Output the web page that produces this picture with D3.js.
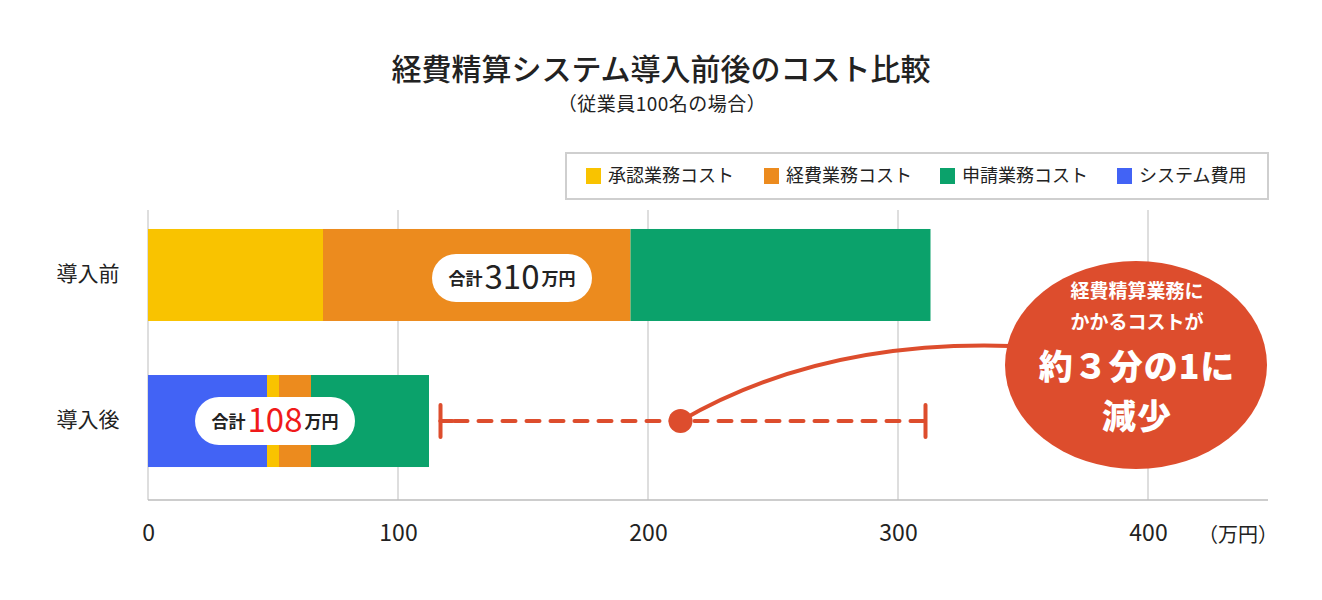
<!DOCTYPE html>
<html>
<head>
<meta charset="utf-8">
<script src="https://cdn.jsdelivr.net/npm/d3@7"></script>
<style>
  body { margin: 0; background: #fff; }
  text { font-family: "Noto Sans CJK JP", "Noto Sans", sans-serif; }
</style>
</head>
<body>
<div id="chart"></div>
<script>
// data (unit: 万円)
var categories = ["導入前", "導入後"];
var seriesNames = ["システム費用", "承認業務コスト", "経費業務コスト", "申請業務コスト"];
var seriesColors = ["#4263f5", "#f9c300", "#ec8b1e", "#0ba26b"];
var beforeValues = [0, 70, 123, 120];
var afterValues = [47.6, 4.8, 12.8, 47.2];
var totalLabels = ["310", "108"];
var legendOrder = ["承認業務コスト", "経費業務コスト", "申請業務コスト", "システム費用"];
var xTicks = [0, 100, 200, 300, 400];
var bracket = [117, 311];
var dotValue = 213;
var red = "#dd4d2d";

var width = 1322, height = 600;
var svg = d3.select("#chart").append("svg")
  .attr("width", width)
  .attr("height", height);

var x = d3.scaleLinear().domain([0, 448]).range([148, 1268]);
var y = d3.scaleBand().domain(categories).range([210, 486])
  .paddingInner(0.37).paddingOuter(0.13);

// title
svg.append("text")
  .attr("x", 661).attr("y", 72)
  .attr("text-anchor", "middle").attr("dominant-baseline", "middle")
  .attr("font-size", "30px").attr("font-weight", 500).attr("fill", "#222")
  .text("経費精算システム導入前後のコスト比較");
svg.append("text")
  .attr("x", 662).attr("y", 106)
  .attr("text-anchor", "middle").attr("dominant-baseline", "middle")
  .attr("font-size", "19px").attr("fill", "#222")
  .attr("letter-spacing", "0.5px")
  .text("（従業員100名の場合）");

// legend
var legend = svg.append("g");
legend.append("rect")
  .attr("x", 566).attr("y", 153).attr("width", 702).attr("height", 46)
  .attr("fill", "#fff").attr("stroke", "#cfcfcf").attr("stroke-width", 2);
var legendX = [586, 764, 940, 1117];
legendOrder.forEach(function(name, i) {
  var c = seriesColors[seriesNames.indexOf(name)];
  legend.append("rect")
    .attr("x", legendX[i]).attr("y", 168).attr("width", 15).attr("height", 16)
    .attr("fill", c);
  legend.append("text")
    .attr("x", legendX[i] + 22).attr("y", 177)
    .attr("dominant-baseline", "middle")
    .attr("font-size", "18px").attr("fill", "#222")
    .text(name);
});

// grid
svg.selectAll(".grid").data(xTicks)
  .enter().append("line")
  .attr("x1", function(d){ return x(d); }).attr("x2", function(d){ return x(d); })
  .attr("y1", 210).attr("y2", 500)
  .attr("stroke", "#bdbdbd").attr("stroke-width", 1);
svg.append("line")
  .attr("x1", x(0)).attr("x2", x(448)).attr("y1", 500).attr("y2", 500)
  .attr("stroke", "#bdbdbd").attr("stroke-width", 1.5);

// axis
var xAxis = svg.append("g")
  .attr("transform", "translate(0,500)")
  .call(d3.axisBottom(x).tickValues(xTicks).tickSize(0).tickPadding(25));
xAxis.select(".domain").remove();
xAxis.selectAll("text")
  .attr("font-size", "23px").attr("fill", "#222")
  .style("font-family", "\"Noto Sans CJK JP\", sans-serif");
svg.append("text")
  .attr("x", 1238).attr("y", 537)
  .attr("text-anchor", "middle").attr("dominant-baseline", "middle")
  .attr("font-size", "20px").attr("fill", "#222")
  .text("（万円）");

// category labels
svg.selectAll(".cat").data(categories)
  .enter().append("text")
  .attr("x", 88).attr("y", function(d){ return y(d) + y.bandwidth() / 2; })
  .attr("text-anchor", "middle").attr("dominant-baseline", "middle")
  .attr("font-size", "21px").attr("fill", "#222")
  .text(function(d){ return d; });

// stacked bars
var rows = [beforeValues, afterValues];
rows.forEach(function(vals, r) {
  var acc = 0;
  vals.forEach(function(v, i) {
    if (v <= 0) return;
    svg.append("rect")
      .attr("x", x(acc)).attr("y", y(categories[r]))
      .attr("width", x(acc + v) - x(acc)).attr("height", y.bandwidth())
      .attr("fill", seriesColors[i]);
    acc += v;
  });
});

// total pills
var pillCenters = [[512, 278], [275, 421]];
var pillColors = ["#222", "#f01a1a"];
totalLabels.forEach(function(t, i) {
  var cx = pillCenters[i][0], cy = pillCenters[i][1];
  svg.append("rect")
    .attr("x", cx - 80).attr("y", cy - 24).attr("width", 160).attr("height", 48)
    .attr("rx", 24).attr("fill", "#fff");
  var txt = svg.append("text")
    .attr("x", cx).attr("y", cy + 2)
    .attr("text-anchor", "middle").attr("dominant-baseline", "middle")
    .attr("fill", "#222");
  txt.append("tspan").attr("font-size", "17px").attr("font-weight", 700).text("合計");
  txt.append("tspan").attr("font-size", "33px").attr("fill", pillColors[i]).attr("dx", 2).text(t);
  txt.append("tspan").attr("font-size", "17px").attr("font-weight", 700).attr("dx", 2).text("万円");
});

// dashed bracket
var by = y(categories[1]) + y.bandwidth() / 2;
svg.append("line")
  .attr("x1", x(bracket[0])).attr("x2", x(bracket[1]))
  .attr("y1", by).attr("y2", by)
  .attr("stroke", red).attr("stroke-width", 4)
  .attr("stroke-dasharray", "13,11").attr("stroke-dashoffset", -14)
  .attr("stroke-linecap", "round");
bracket.forEach(function(b) {
  svg.append("line")
    .attr("x1", x(b)).attr("x2", x(b)).attr("y1", by - 16).attr("y2", by + 16)
    .attr("stroke", red).attr("stroke-width", 4).attr("stroke-linecap", "round");
});
svg.append("line")
  .attr("x1", x(bracket[0])).attr("x2", x(bracket[0]) + 12)
  .attr("y1", by).attr("y2", by)
  .attr("stroke", red).attr("stroke-width", 4).attr("stroke-linecap", "round");

// connector
var dx = x(dotValue);
svg.append("path")
  .attr("d", "M" + dx + "," + by + " Q820,340 1010,346")
  .attr("fill", "none").attr("stroke", red).attr("stroke-width", 4);
svg.append("circle")
  .attr("cx", dx).attr("cy", by).attr("r", 12).attr("fill", red);

// callout
svg.append("ellipse")
  .attr("cx", 1136).attr("cy", 365).attr("rx", 131).attr("ry", 104)
  .attr("fill", red);
var callLines = [
  { t: "経費精算業務に", y: 293, s: 19, w: 700 },
  { t: "かかるコストが", y: 324, s: 19, w: 700 },
  { t: "約３分の1に", y: 370, s: 34, w: 900 },
  { t: "減少", y: 420, s: 34, w: 900 }
];
svg.selectAll(".call").data(callLines)
  .enter().append("text")
  .attr("x", 1137).attr("y", function(d){ return d.y; })
  .attr("text-anchor", "middle").attr("dominant-baseline", "middle")
  .attr("font-size", function(d){ return d.s + "px"; })
  .attr("font-weight", function(d){ return d.w; })
  .attr("letter-spacing", function(d){ return d.s > 30 ? "1px" : "0px"; })
  .attr("fill", "#fff")
  .text(function(d){ return d.t; });
</script>
</body>
</html>
